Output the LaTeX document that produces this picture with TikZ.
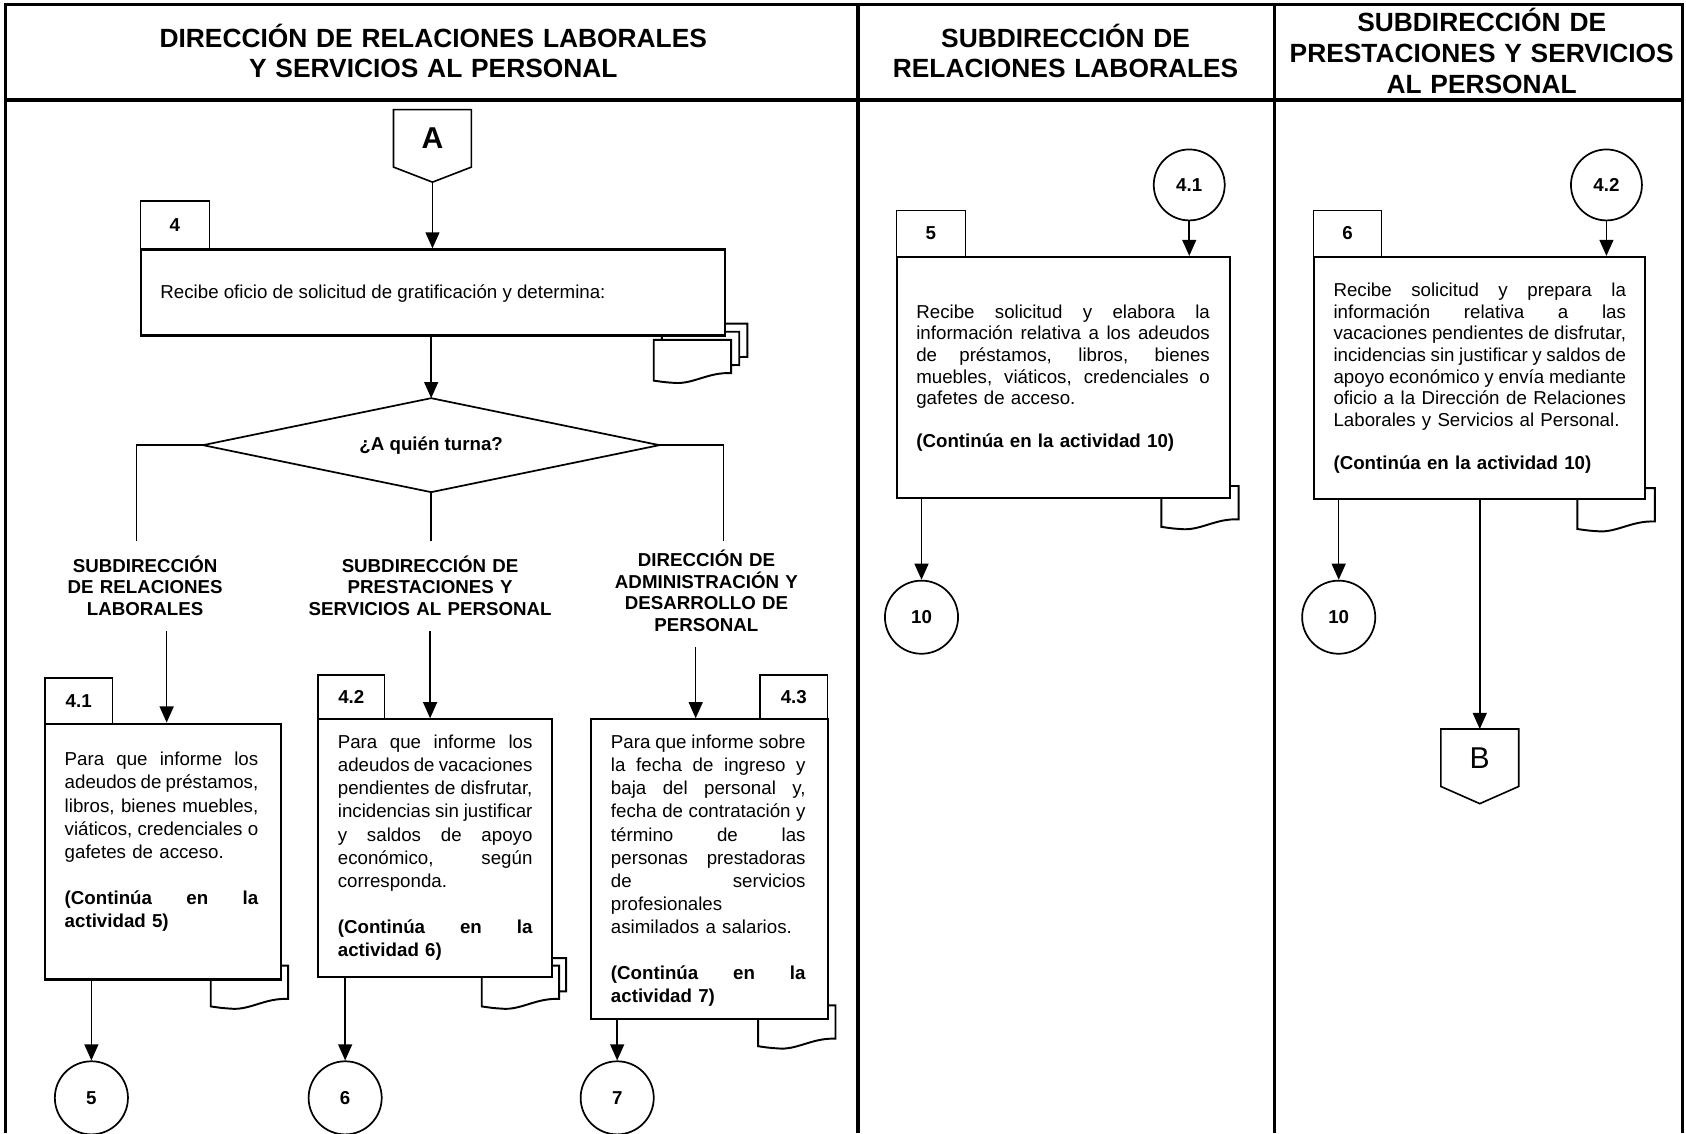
\documentclass[tikz,border=0pt]{standalone}
\usepackage{fontspec}
\setmainfont{Liberation Sans}
\usetikzlibrary{arrows.meta,calc,shapes.geometric}
\newcommand{\txa}{\fontsize{17.4}{21.5}\selectfont}
\newcommand{\txb}{\fontsize{17.4}{20}\selectfont}
\newcommand{\fst}{\rule{0pt}{17pt}}
\newcommand{\hst}{\rule{0pt}{24pt}}
\newcommand{\jl}[1]{{\spaceskip=0pt\relax\xspaceskip=0pt\relax\makebox[\JW][s]{#1}}}
\def\JW{180pt}
\begin{document}
\begin{tikzpicture}[x=1pt,y=-1pt,
  frame/.style={line width=3pt},
  box/.style={draw, fill=white, line width=2pt, inner sep=0pt, anchor=north west},
  tab/.style={draw, fill=white, line width=1.4pt, inner sep=0pt, anchor=north west, font=\txb\bfseries},
  txt/.style={inner sep=0pt, anchor=north west, align=left},
  lbl/.style={inner sep=0pt, anchor=north, align=center, font=\txb\bfseries},
  hdr/.style={inner sep=0pt, anchor=north, align=center},
  conn/.style={circle, draw, fill=white, line width=1.6pt, minimum size=68pt, inner sep=0pt, font=\txb\bfseries},
  arr/.style={line width=1.4pt, -{Triangle[width=13pt,length=15pt]}},
  ln/.style={line width=1.4pt},
  pent/.style={line width=1.5pt},
  docst/.style={draw, fill=white, line width=1.8pt},
  docpic/.pic={\path[docst] (0,0) -- (72,0) -- (72,31) .. controls (50,30) and (36,42) .. (18,40) .. controls (9,39.5) and (4,38.5) .. (0,38) -- cycle;},
]
\useasboundingbox (0,0) rectangle (1568,1054);
% frame
\draw[frame] (5,1054) -- (5,4) -- (1565,4) -- (1565,1054);
\draw[frame] (5,93) -- (1565,93);
\draw[frame] (798,4) -- (798,1054);
\draw[frame] (1185,4) -- (1185,1054);
% headers
\node[hdr, text width=600pt, font=\fontsize{24.5}{28}\selectfont\bfseries] (h1) at (403,20) {\hst DIRECCIÓN DE RELACIONES LABORALES\\Y SERVICIOS AL PERSONAL};
\node[hdr, text width=380pt, font=\fontsize{24.5}{28}\selectfont\bfseries] (h2) at (991,20) {\hst SUBDIRECCIÓN DE\\RELACIONES LABORALES};
\node[hdr, text width=400pt, font=\fontsize{24.5}{29}\selectfont\bfseries] (h3) at (1378,5) {\hst SUBDIRECCIÓN DE\\PRESTACIONES Y SERVICIOS\\AL PERSONAL};

% ---------- column 1 ----------
\node[inner sep=0pt, minimum width=72pt, minimum height=53pt, anchor=north west, font=\fontsize{28}{30}\selectfont\bfseries] (pA) at (366,102) {A};
\coordinate (pAtip) at ($(pA.south)+(0,14)$);
\draw[pent] (pA.north west) -- (pA.north east) -- (pA.south east) -- (pAtip) -- (pA.south west) -- cycle;

\pic at (623,301) {docpic};
\pic at (615.5,308.5) {docpic};
\pic at (608,316) {docpic};
\node[box, minimum width=543pt, minimum height=80pt] (b4) at (130,231) {};
\node[tab, minimum width=64pt, minimum height=45pt] (t4) at (130,186) {4};
\node[txt, font=\txb] (x4) at (149,260) {\fst Recibe oficio de solicitud de gratificación y determina:};

\node[minimum width=424pt, minimum height=87pt, inner sep=0pt, font=\txb\bfseries] (dia) at (401,414) {¿A quién turna?};
\draw[line width=1.6pt] (dia.north) -- (dia.east) -- (dia.south) -- (dia.west) -- cycle;

\draw[arr] (pAtip) -- (b4.north -| pAtip);
\draw[arr] (b4.south -| dia.north) -- (dia.north);

\coordinate (br1) at (127,503);
\coordinate (br2) at (401,503);
\coordinate (br3) at (673,503);
\draw[ln] (dia.west) -| (br1);
\draw[ln] (dia.south) -- (br2);
\draw[ln] (dia.east) -| (br3);

\node[lbl, text width=160pt] (lab1) at (135,515) {\fst SUBDIRECCIÓN\\DE RELACIONES\\LABORALES};
\node[lbl, text width=240pt] (lab2) at (400,515) {\fst SUBDIRECCIÓN DE\\PRESTACIONES Y\\SERVICIOS AL PERSONAL};
\node[lbl, text width=200pt] (lab3) at (657,510) {\fst DIRECCIÓN DE\\ADMINISTRACIÓN Y\\DESARROLLO DE\\PERSONAL};

% box 4.1
\pic at (196,898) {docpic};
\node[box, minimum width=219pt, minimum height=238pt] (b41) at (41,672) {};
\node[tab, minimum width=63pt, minimum height=42pt] (t41) at (41,630) {4.1};
\def\JW{180pt}
\node[txt, text width=\JW, font=\txa] (x41) at (60,695) {\fst\jl{Para que informe los}\\\jl{adeudos de préstamos,}\\\jl{libros, bienes muebles,}\\\jl{viáticos, credenciales o}\\gafetes de acceso.\\[21.5pt]\textbf{\jl{(Continúa en la}}\\\textbf{actividad 5)}};

% box 4.2
\pic at (454.5,891) {docpic};
\pic at (448,898) {docpic};
\node[box, minimum width=217pt, minimum height=240pt] (b42) at (295,668) {};
\node[tab, minimum width=62pt, minimum height=41pt] (t42) at (295,627) {4.2};
\def\JW{181pt}
\node[txt, text width=\JW, font=\txa] (x42) at (314,679) {\fst\jl{Para que informe los}\\\jl{adeudos de vacaciones}\\\jl{pendientes de disfrutar,}\\\jl{incidencias sin justificar}\\\jl{y saldos de apoyo}\\\jl{económico, según}\\corresponda.\\[21.5pt]\textbf{\jl{(Continúa en la}}\\\textbf{actividad 6)}};

% box 4.3
\pic at (705,935) {docpic};
\node[box, minimum width=220pt, minimum height=279pt] (b43) at (549,668) {};
\node[tab, minimum width=63pt, minimum height=41pt] (t43) at (706,627) {4.3};
\node[txt, text width=\JW, font=\txa] (x43) at (568,679) {\fst\jl{Para que informe sobre}\\\jl{la fecha de ingreso y}\\\jl{baja del personal y,}\\\jl{fecha de contratación y}\\\jl{término de las}\\\jl{personas prestadoras}\\\jl{de servicios}\\profesionales\\asimilados a salarios.\\[21.5pt]\textbf{\jl{(Continúa en la}}\\\textbf{actividad 7)}};

\coordinate (s41) at (155,587);
\coordinate (s42) at (400,587);
\coordinate (s43) at (647,602);
\draw[arr] (s41) -- (b41.north -| s41);
\draw[arr] (s42) -- (b42.north -| s42);
\draw[arr] (s43) -- (b43.north -| s43);

\node[conn] (c5) at (85,1021) {5};
\node[conn] (c6) at (321,1021) {6};
\node[conn] (c7) at (574,1021) {7};
\draw[arr] (b41.south -| c5) -- (c5.north);
\draw[arr] (b42.south -| c6) -- (c6.north);
\draw[arr] (b43.south -| c7) -- (c7.north);

% ---------- column 2 ----------
\node[conn, minimum size=66pt] (c41) at (1106,172) {4.1};
\pic at (1080,452) {docpic};
\node[box, minimum width=310pt, minimum height=224pt] (b5) at (833,238) {};
\node[tab, minimum width=64pt, minimum height=43pt] (t5) at (833,195) {5};
\def\JW{273pt}
\node[txt, text width=\JW, font=\txb] (x5) at (852,279) {\fst\jl{Recibe solicitud y elabora la}\\\jl{información relativa a los adeudos}\\\jl{de préstamos, libros, bienes}\\\jl{muebles, viáticos, credenciales o}\\gafetes de acceso.\\[20pt]\textbf{(Continúa en la actividad 10)}};
\node[conn] (c10a) at (857,574) {10};
\draw[arr] (c41.south) -- (b5.north -| c41.south);
\draw[arr] (b5.south -| c10a) -- (c10a.north);

% ---------- column 3 ----------
\node[conn, minimum size=66pt] (c42) at (1494,172) {4.2};
\pic at (1467,454) {docpic};
\node[box, minimum width=308pt, minimum height=225pt] (b6) at (1221,238) {};
\node[tab, minimum width=63pt, minimum height=43pt] (t6) at (1221,195) {6};
\def\JW{272pt}
\node[txt, text width=\JW, font=\txb] (x6) at (1240,259) {\fst\jl{Recibe solicitud y prepara la}\\\jl{información relativa a las}\\\jl{vacaciones pendientes de disfrutar,}\\\jl{incidencias sin justificar y saldos de}\\\jl{apoyo económico y envía mediante}\\\jl{oficio a la Dirección de Relaciones}\\Laborales y Servicios al Personal.\\[20pt]\textbf{(Continúa en la actividad 10)}};
\node[conn] (c10b) at (1245,574) {10};
\node[inner sep=0pt, minimum width=72pt, minimum height=53pt, anchor=north west, font=\fontsize{28}{30}\selectfont] (pB) at (1340,678) {B};
\coordinate (pBtip) at ($(pB.south)+(0,16)$);
\draw[pent] (pB.north west) -- (pB.north east) -- (pB.south east) -- (pBtip) -- (pB.south west) -- cycle;
\draw[arr] (c42.south) -- (b6.north -| c42.south);
\draw[arr] (b6.south -| c10b) -- (c10b.north);
\draw[arr] (b6.south -| pB) -- (pB.north);
\end{tikzpicture}
\end{document}
